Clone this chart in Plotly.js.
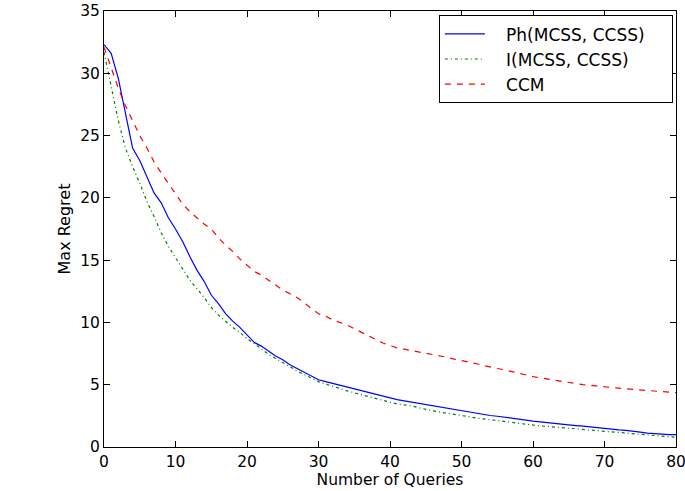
<!DOCTYPE html>
<html><head><meta charset="utf-8">
<script src="https://cdn.plot.ly/plotly-3.0.1.min.js"></script>
<style>html,body{margin:0;padding:0;background:#fff}</style>
</head><body><div id="chart" style="width:685px;height:491px"></div>
<script>
const queries = Array.from({length: 81}, (_, i) => i);
const phValues = [32.3,31.6,29.6,26.8,24.0,23.0,21.7,20.4,19.6,18.4,17.5,16.5,15.3,14.2,13.3,12.2,11.5,10.7,10.1,9.6,9.0,8.4,8.1,7.7,7.3,7.0,6.6,6.3,6.0,5.7,5.4,5.25,5.1,4.95,4.85,4.7,4.5,4.35,4.2,4.05,3.9,3.8,3.7,3.6,3.5,3.4,3.28,3.18,3.08,2.98,2.87,2.77,2.68,2.6,2.53,2.47,2.38,2.3,2.22,2.15,2.08,2.02,1.95,1.9,1.85,1.78,1.72,1.67,1.6,1.52,1.45,1.4,1.37,1.33,1.28,1.2,1.12,1.07,1.04,1.0,1.0];
const iValues = [31.7,28.8,26.2,24.0,22.5,21.2,19.7,18.5,17.2,16.1,15.2,14.2,13.4,12.7,12.0,11.2,10.6,10.1,9.6,9.2,8.7,8.3,7.85,7.45,7.1,6.8,6.45,6.1,5.8,5.5,5.25,5.05,4.9,4.7,4.5,4.35,4.2,4.0,3.85,3.7,3.55,3.45,3.38,3.3,3.15,3.0,2.9,2.8,2.7,2.6,2.5,2.42,2.34,2.26,2.2,2.13,2.06,1.98,1.9,1.82,1.75,1.7,1.65,1.6,1.55,1.5,1.45,1.4,1.35,1.3,1.25,1.2,1.15,1.1,1.05,1.0,0.95,0.9,0.86,0.82,0.78];
const ccmValues = [32.1,30.4,28.8,27.4,26.2,25.0,24.0,22.9,22.0,21.2,20.3,19.5,18.9,18.4,17.9,17.5,16.8,16.2,15.7,15.1,14.6,14.1,13.8,13.4,13.0,12.6,12.3,12.0,11.6,11.1,10.7,10.5,10.2,10.0,9.8,9.5,9.2,8.9,8.6,8.35,8.15,7.95,7.85,7.75,7.6,7.5,7.4,7.3,7.2,7.05,6.95,6.85,6.7,6.55,6.4,6.3,6.2,6.05,5.95,5.8,5.65,5.55,5.45,5.35,5.25,5.15,5.1,5.0,4.95,4.88,4.82,4.77,4.72,4.67,4.62,4.57,4.52,4.47,4.42,4.38,4.36];
const seriesNames = ["Ph(MCSS, CCSS)", "I(MCSS, CCSS)", "CCM"];
const xTicks = [0,10,20,30,40,50,60,70,80];
const yTicks = [0,5,10,15,20,25,30,35];

const pad = '\u00A0\u00A0\u00A0';
const tail = '\u00A0\u00A0\u00A0\u00A0';
const traces = [
  {x: queries, y: phValues, name: pad + seriesNames[0] + tail, mode: 'lines', line: {color: '#0000ff', width: 1.2}},
  {x: queries, y: iValues, name: pad + seriesNames[1] + tail, mode: 'lines', line: {color: '#008000', width: 1.2, dash: '3px,3px,1px,3px'}},
  {x: queries, y: ccmValues, name: pad + seriesNames[2] + tail, mode: 'lines', line: {color: '#ff0000', width: 1.2, dash: '6px,6px'}}
];
const axisCommon = {
  showgrid: false, zeroline: false, showline: true, mirror: 'ticks', linecolor: '#000', linewidth: 1,
  ticks: 'inside', ticklen: 6, tickcolor: '#000', ticklabeloverflow: 'allow',
  tickfont: {family: 'DejaVu Sans', size: 15.5, color: '#000'}
};
const layout = {
  width: 685, height: 491,
  margin: {l: 104, r: 9, t: 11, b: 44},
  paper_bgcolor: '#fff', plot_bgcolor: '#fff',
  font: {family: 'DejaVu Sans', color: '#000'},
  xaxis: Object.assign({}, axisCommon, {range: [0, 80], tickvals: xTicks, ticktext: xTicks.map(String),
    title: {text: 'Number of Queries', font: {family: 'DejaVu Sans', size: 15.5}, standoff: 2}}),
  yaxis: Object.assign({}, axisCommon, {range: [0, 35], tickvals: yTicks, ticktext: yTicks.map(String),
    title: {text: 'Max Regret', font: {family: 'DejaVu Sans', size: 16}, standoff: 5}}),
  showlegend: true,
  legend: {x: 0.9945, xanchor: 'right', y: 0.99, yanchor: 'top', bordercolor: '#000', borderwidth: 1,
    bgcolor: '#fff', font: {family: 'DejaVu Sans', size: 17}, itemwidth: 40, tracegroupgap: 0}
};
Plotly.newPlot('chart', traces, layout, {displayModeBar: false, staticPlot: true});
</script></body></html>
